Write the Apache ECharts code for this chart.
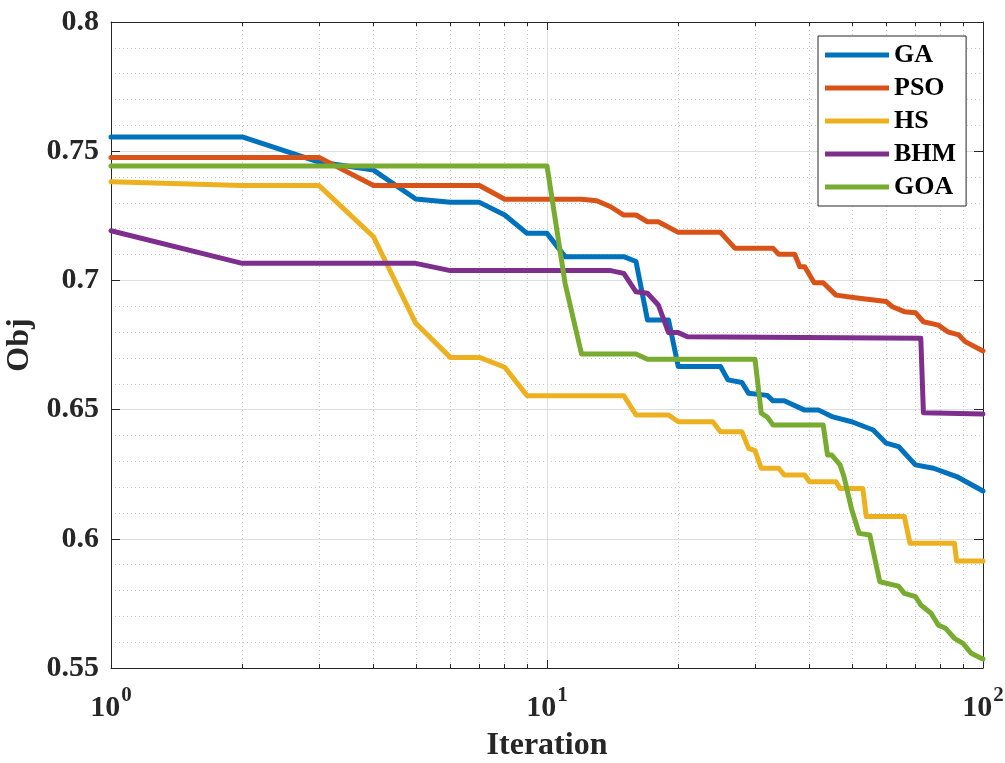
<!DOCTYPE html>
<html>
<head>
<meta charset="utf-8">
<title>Convergence</title>
<script src="https://cdn.jsdelivr.net/npm/echarts@6/dist/echarts.min.js"></script>
<style>
  html, body { margin: 0; padding: 0; background: #fff; }
  #chart { width: 1005px; height: 763px; }
</style>
</head>
<body>
<div id="chart"></div>
<script>
// algorithms, in legend order
const seriesNames = ['GA', 'PSO', 'HS', 'BHM', 'GOA']

// iteration / objective pairs
const gaIter = [1, 2, 3, 4, 5, 6, 7, 8, 9, 10, 11, 15, 16, 17, 19, 20, 25, 26, 28, 29, 32, 33, 35, 39, 42, 45, 50, 56, 60, 64, 70, 77, 87, 100]
const gaObj = [0.7555, 0.7555, 0.7458, 0.7427, 0.7315, 0.7302, 0.7302, 0.7253, 0.7182, 0.7182, 0.7092, 0.7092, 0.7073, 0.6847, 0.6847, 0.6667, 0.6667, 0.6615, 0.6605, 0.6563, 0.6555, 0.6534, 0.6534, 0.6498, 0.6498, 0.6473, 0.6453, 0.6421, 0.6370, 0.6357, 0.6286, 0.6273, 0.6241, 0.6185]

const psoIter = [1, 3, 4, 7, 8, 12, 13, 14, 15, 16, 17, 18, 20, 25, 27, 33, 34, 37, 38, 39, 41, 43, 46, 52, 60, 62, 66, 70, 73, 79, 83, 88, 91, 100]
const psoObj = [0.7476, 0.7476, 0.7367, 0.7367, 0.7314, 0.7314, 0.7308, 0.7285, 0.7253, 0.7253, 0.7227, 0.7227, 0.7186, 0.7186, 0.7124, 0.7124, 0.7101, 0.7101, 0.7053, 0.7053, 0.6991, 0.6991, 0.6943, 0.6931, 0.6918, 0.6898, 0.6879, 0.6875, 0.6840, 0.6827, 0.6801, 0.6789, 0.6763, 0.6727]

const hsIter = [1, 2, 3, 4, 5, 6, 7, 8, 9, 15, 16, 19, 20, 24, 25, 28, 29, 30, 31, 34, 35, 39, 40, 46, 47, 53, 54, 66, 68, 86, 87, 100]
const hsObj = [0.7382, 0.7367, 0.7367, 0.7169, 0.6834, 0.6702, 0.6702, 0.6664, 0.6554, 0.6554, 0.6479, 0.6479, 0.6453, 0.6453, 0.6414, 0.6414, 0.6350, 0.6341, 0.6273, 0.6273, 0.6247, 0.6247, 0.6221, 0.6221, 0.6195, 0.6195, 0.6086, 0.6086, 0.5983, 0.5983, 0.5914, 0.5914]

const bhmIter = [1, 2, 5, 6, 14, 15, 16, 17, 18, 19, 20, 21, 72, 73, 100]
const bhmObj = [0.7192, 0.7066, 0.7066, 0.7038, 0.7038, 0.7027, 0.6956, 0.6950, 0.6905, 0.6798, 0.6798, 0.6782, 0.6776, 0.6488, 0.6483]

const goaIter = [1, 10, 11, 12, 16, 17, 30, 31, 32, 33, 43, 44, 45, 47, 48, 50, 52, 55, 57, 58, 64, 66, 70, 72, 76, 79, 82, 86, 90, 94, 99, 100]
const goaObj = [0.7443, 0.7443, 0.6989, 0.6715, 0.6715, 0.6695, 0.6695, 0.6486, 0.6471, 0.6440, 0.6440, 0.6324, 0.6324, 0.6286, 0.6240, 0.6112, 0.6021, 0.6015, 0.5892, 0.5834, 0.5817, 0.5789, 0.5776, 0.5744, 0.5712, 0.5666, 0.5654, 0.5615, 0.5595, 0.5557, 0.5538, 0.5535]

// axis ticks
const xTickValues = [1, 10, 100]
const xTickExponents = ['0', '1', '2']
const xMinorTicks = [2, 3, 4, 5, 6, 7, 8, 9, 20, 30, 40, 50, 60, 70, 80, 90]

const COLORS = ['#0072BD', '#D95319', '#EDB120', '#7E2F8E', '#77AC30']
const FONT = '"Liberation Serif", "Times New Roman", serif'
const INK = '#262626'
const MAJOR_GRID = '#dedede'
const MINOR_GRID = '#c8c8c8'

const curves = [
  [gaIter, gaObj],
  [psoIter, psoObj],
  [hsIter, hsObj],
  [bhmIter, bhmObj],
  [goaIter, goaObj],
]

const chart = echarts.init(document.getElementById('chart'), null, { renderer: 'canvas' })

const logAxis = { type: 'log', logBase: 10, min: 1, max: 100 }

const option = {
  animation: false,
  backgroundColor: '#fff',
  grid: { left: 111, right: 22, top: 22, bottom: 95, outerBoundsMode: 'none', containLabel: false },
  legend: {
    data: seriesNames,
    orient: 'vertical',
    left: 818,
    top: 36,
    padding: [6, 10, 6, 7],
    itemGap: 7,
    itemWidth: 64,
    itemHeight: 5,
    icon: 'rect',
    backgroundColor: '#fff',
    borderColor: INK,
    borderWidth: 1,
    borderRadius: 0,
    textStyle: { fontSize: 26, fontWeight: 'bold', fontFamily: FONT, color: '#000', lineHeight: 26 },
  },
  xAxis: [
    {
      ...logAxis,
      position: 'bottom',
      name: 'Iteration',
      nameLocation: 'middle',
      nameGap: 62,
      nameTextStyle: { fontSize: 32, fontWeight: 'bold', fontFamily: FONT, color: INK },
      axisLine: { show: true, onZero: false, lineStyle: { color: INK, width: 1 } },
      axisTick: { show: true, inside: true, length: 8, customValues: xTickValues, lineStyle: { color: INK } },
      axisLabel: {
        customValues: xTickValues,
        margin: 17,
        formatter: (v) => `{b|10}{s|${xTickExponents[xTickValues.indexOf(v)]}}`,
        rich: {
          b: { fontSize: 30, fontWeight: 'bold', fontFamily: FONT, color: INK, verticalAlign: 'bottom' },
          s: { fontSize: 21, fontWeight: 'bold', fontFamily: FONT, color: INK, verticalAlign: 'top', padding: [0, 0, 17, 1] },
        },
      },
      splitLine: { show: true, lineStyle: { color: MAJOR_GRID, width: 1 } },
    },
    {
      ...logAxis,
      position: 'top',
      axisLine: { show: true, onZero: false, lineStyle: { color: INK, width: 1 } },
      axisTick: { show: true, inside: true, length: 8, customValues: xTickValues, lineStyle: { color: INK } },
      axisLabel: { show: false },
      splitLine: { show: false },
    },
    {
      ...logAxis,
      position: 'bottom',
      axisLine: { show: false },
      axisTick: { show: true, inside: true, length: 4, customValues: xMinorTicks, lineStyle: { color: INK } },
      axisLabel: { show: false },
      splitLine: { show: true, lineStyle: { color: MINOR_GRID, width: 1, type: [1, 3] } },
    },
    {
      ...logAxis,
      position: 'top',
      axisLine: { show: false },
      axisTick: { show: true, inside: true, length: 4, customValues: xMinorTicks, lineStyle: { color: INK } },
      axisLabel: { show: false },
      splitLine: { show: false },
    },
  ],
  yAxis: [
    {
      type: 'value',
      position: 'left',
      min: 0.55,
      max: 0.8,
      interval: 0.05,
      name: 'Obj',
      nameLocation: 'middle',
      nameRotate: 90,
      nameGap: 66,
      nameTextStyle: { fontSize: 32, fontWeight: 'bold', fontFamily: FONT, color: INK },
      axisLine: { show: true, onZero: false, lineStyle: { color: INK, width: 1 } },
      axisTick: { show: true, inside: true, length: 9, lineStyle: { color: INK } },
      axisLabel: { fontSize: 30, fontWeight: 'bold', fontFamily: FONT, color: INK, margin: 12 },
      splitLine: { show: true, lineStyle: { color: MAJOR_GRID, width: 1 } },
      minorTick: { show: false, splitNumber: 5 },
      minorSplitLine: { show: true, lineStyle: { color: MINOR_GRID, width: 1, type: [1, 3] } },
    },
    {
      type: 'value',
      position: 'right',
      min: 0.55,
      max: 0.8,
      interval: 0.05,
      axisLine: { show: true, onZero: false, lineStyle: { color: INK, width: 1 } },
      axisTick: { show: true, inside: true, length: 9, lineStyle: { color: INK } },
      axisLabel: { show: false },
      splitLine: { show: false },
    },
  ],
  series: curves.map(([iters, objs], k) => ({
    name: seriesNames[k],
    type: 'line',
    xAxisIndex: 0,
    yAxisIndex: 0,
    data: iters.map((it, i) => [it, objs[i]]),
    symbol: 'none',
    showSymbol: false,
    color: COLORS[k],
    lineStyle: { width: 5, color: COLORS[k], cap: 'round', join: 'round' },
    emphasis: { disabled: true },
    z: 3,
  })),
}

chart.setOption(option)
</script>
</body>
</html>
